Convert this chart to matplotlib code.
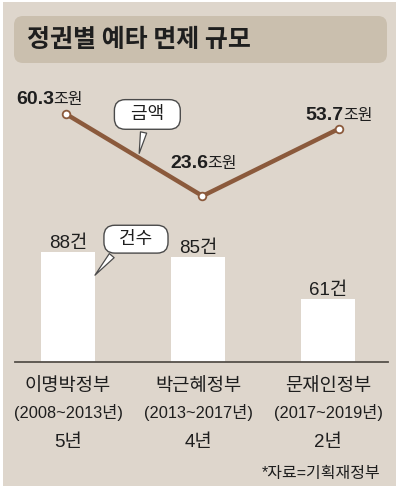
import matplotlib
matplotlib.use('Agg')
import matplotlib.pyplot as plt
from matplotlib import font_manager
from matplotlib.patches import FancyBboxPatch, Rectangle

# 데이터
govts = ['이명박정부', '박근혜정부', '문재인정부']
periods = ['(2008~2013년)', '(2013~2017년)', '(2017~2019년)']
terms = ['5년', '4년', '2년']
amounts = [60.3, 23.6, 53.7]   # 조원
counts = [88, 85, 61]          # 건

W, H, DPI = 400, 488, 100
BG = '#ded6cc'
TITLE_BG = '#cabfae'
BROWN = '#8b5a3c'
INK = '#1e1e1e'
EDGE = '#4a4a4a'

installed = {f.name for f in font_manager.fontManager.ttflist}
NUM = 'Liberation Sans Narrow' if 'Liberation Sans Narrow' in installed else 'Liberation Sans'
KR = 'Noto Sans CJK KR'
plt.rcParams['font.family'] = [NUM, KR, 'DejaVu Sans']


def px(x0, y0, x1, y1):
    # 픽셀 박스(위쪽 원점) -> figure 비율
    return [x0 / W, 1 - y1 / H, (x1 - x0) / W, (y1 - y0) / H]


fig = plt.figure(figsize=(W / DPI, H / DPI), dpi=DPI, facecolor='white')

# 배경 + 제목 (픽셀 좌표 오버레이)
ov = fig.add_axes([0, 0, 1, 1], zorder=0)
ov.set_xlim(0, W)
ov.set_ylim(H, 0)
ov.axis('off')
ov.add_patch(Rectangle((3, 2), 393, 484, fc=BG, ec='none'))
ov.add_patch(FancyBboxPatch((14, 16), 373, 47, boxstyle='round,pad=0,rounding_size=9',
                            fc=TITLE_BG, ec='none'))
ov.text(27, 40, '정권별 예타 면제 규모', family=KR, fontsize=18, fontweight='bold',
        color=INK, ha='left', va='center')
ov.text(381, 478, '*자료=기획재정부', fontsize=11.5, color=INK, ha='right', va='baseline')

# 막대 (건수)
ax = fig.add_axes(px(15, 220, 388, 362), zorder=1)
ax.patch.set_visible(False)
x = range(len(govts))
bw = 0.415
ax.bar(x, counts, width=bw, color='white', zorder=2)
ax.set_xlim(-0.4077, 2.4615)
ax.set_ylim(25.4, 106.2)
ax.axis('off')
ax.axhline(25.4, color='#55504a', lw=1.3, clip_on=False, zorder=3)

for i, c in enumerate(counts):
    ax.annotate(f'{c}건', (i, c), xytext=(0, 4), textcoords='offset pixels',
                ha='center', va='baseline', fontsize=13.5, color=INK)
    ax.annotate(govts[i], (i, 25.4), xytext=(0, -29), textcoords='offset pixels',
                ha='center', va='baseline', fontsize=13.5, color=INK, annotation_clip=False)
    ax.annotate(periods[i], (i, 25.4), xytext=(0, -56), textcoords='offset pixels',
                ha='center', va='baseline', fontsize=11.8, color=INK, annotation_clip=False)
    ax.annotate(terms[i], (i, 25.4), xytext=(0, -85), textcoords='offset pixels',
                ha='center', va='baseline', fontsize=13.5, color=INK, annotation_clip=False)

ax.annotate('  건수  ', (bw / 2, counts[0] * 0.85), xytext=(41, 36), textcoords='offset pixels',
            ha='center', va='center', fontsize=13, color=INK,
            bbox=dict(boxstyle='round,pad=0.3,rounding_size=0.6', fc='white', ec=EDGE, lw=1),
            arrowprops=dict(arrowstyle='wedge,tail_width=0.35', fc='white', ec=EDGE, lw=0.9,
                            relpos=(0.2, 0.1), shrinkB=0))

# 선 (금액)
lax = fig.add_axes(px(15, 80, 388, 210), zorder=2)
lax.patch.set_visible(False)
lax.set_xlim(-0.3736, 2.359)
lax.set_ylim(17.33, 75.52)
lax.axis('off')
lax.plot(x, amounts, color=BROWN, lw=3.2, solid_capstyle='round', zorder=2, clip_on=False)
lax.plot(x, amounts, 'o', ms=5.5, mfc='white', mec=BROWN, mew=1.3, zorder=3, clip_on=False)

offsets = [(-12, 10), (6, 28), (5, 9)]
for i, (v, off) in enumerate(zip(amounts, offsets)):
    lax.annotate(f'{v}', (i, v), xytext=off, textcoords='offset pixels',
                 ha='right', va='baseline', fontsize=14, fontweight='bold', color=INK,
                 annotation_clip=False)
    lax.annotate('조원', (i, v), xytext=(off[0] - 1, off[1]), textcoords='offset pixels',
                 ha='left', va='baseline', family=KR, fontsize=11.5, color=INK,
                 annotation_clip=False)

t = 0.53
tip_y = amounts[0] + t * (amounts[1] - amounts[0])
lax.annotate('  금액  ', (t, tip_y), xytext=(9, 43), textcoords='offset pixels',
             ha='center', va='center', fontsize=13, color=INK,
             bbox=dict(boxstyle='round,pad=0.35,rounding_size=0.6', fc='white', ec=EDGE, lw=1),
             arrowprops=dict(arrowstyle='wedge,tail_width=0.35', fc='white', ec=EDGE, lw=0.9,
                             shrinkB=3))

fig.savefig('out.png', dpi=DPI, facecolor='white')
